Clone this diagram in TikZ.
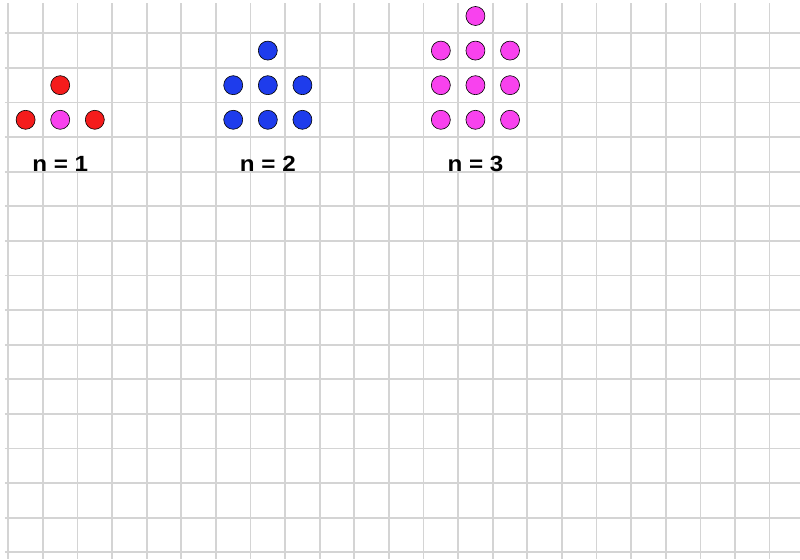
\documentclass[tikz,border=0pt]{standalone}
\usepackage{fontspec}
\setsansfont{Liberation Sans}
\usepackage{tikz}
\definecolor{GridGrey}{HTML}{D4D4D4}
\definecolor{DotRed}{HTML}{F41C1C}
\definecolor{DotPink}{HTML}{F842EE}
\definecolor{DotBlue}{HTML}{1E3CEC}

\begin{document}
\begin{tikzpicture}[
            x=34.6pt, y=-34.6pt,
            font=\sffamily\bfseries\fontsize{22}{26}\selectfont,
            gridline/.style={draw=GridGrey, line width=1.7pt},
            dot/.style={circle, draw=black, line width=0.6pt, minimum size=19pt, inner sep=0pt},
            reddot/.style={dot, fill=DotRed},
            pinkdot/.style={dot, fill=DotPink},
            bluedot/.style={dot, fill=DotBlue},
            label/.style={anchor=base, inner sep=0pt, xscale=1.1},
        ]
        \useasboundingbox (-0.24,-0.962) rectangle (22.88,15.195);

        % squared paper
        \foreach \i in {0,...,22}
            \draw[gridline] (\i,-0.87) -- (\i,15.2);
        \foreach \j in {0,...,15}
            \draw[gridline] (-0.1,\j) -- (22.9,\j);

        % n = 1
        \node[reddot] (a1) at (1.5,1.5) {};
        \node[reddot] (a2) at (0.5,2.5) {};
        \node[pinkdot] (a3) at (1.5,2.5) {};
        \node[reddot] (a4) at (2.5,2.5) {};
        \node[label] (n1) at (1.5,3.98) {n = 1};

        % n = 2
        \node[bluedot] (b0) at (7.5,0.5) {};
        \foreach \c [count=\k] in {6.5,7.5,8.5} {
            \node[bluedot] (b1\k) at (\c,1.5) {};
            \node[bluedot] (b2\k) at (\c,2.5) {};
        }
        \node[label] (n2) at (7.5,3.98) {n = 2};

        % n = 3
        \node[pinkdot] (c0) at (13.5,-0.5) {};
        \foreach \c [count=\k] in {12.5,13.5,14.5} {
            \node[pinkdot] (c1\k) at (\c,0.5) {};
            \node[pinkdot] (c2\k) at (\c,1.5) {};
            \node[pinkdot] (c3\k) at (\c,2.5) {};
        }
        \node[label] (n3) at (13.5,3.98) {n = 3};
    \end{tikzpicture}
\end{document}
